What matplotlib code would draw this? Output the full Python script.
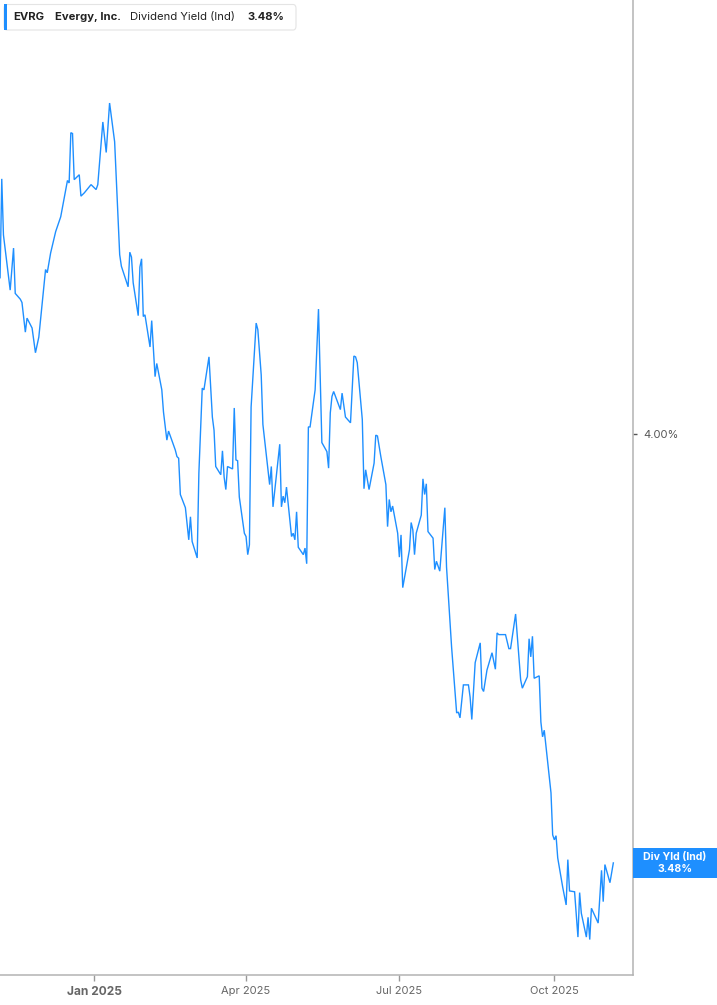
import numpy as np
import pandas as pd
import matplotlib
matplotlib.use("Agg")
import matplotlib.pyplot as plt
import matplotlib.dates as mdates
import matplotlib.patches as mpatches
import matplotlib.transforms as mtransforms

plt.rcParams['font.family'] = ['Inter', 'DejaVu Sans']

ticker = "EVRG"
company = "Evergy, Inc."
metric = "Dividend Yield (Ind)"
last_label = "3.48%"

dates = [
    "2024-11-06", "2024-11-07", "2024-11-08", "2024-11-12", "2024-11-14", "2024-11-15",
    "2024-11-18", "2024-11-19", "2024-11-21", "2024-11-22", "2024-11-25", "2024-11-27",
    "2024-11-29", "2024-12-03", "2024-12-04", "2024-12-06", "2024-12-09", "2024-12-12",
    "2024-12-16", "2024-12-17", "2024-12-18", "2024-12-19", "2024-12-20", "2024-12-23",
    "2024-12-24", "2024-12-26", "2024-12-30", "2025-01-02", "2025-01-03", "2025-01-06",
    "2025-01-08", "2025-01-10", "2025-01-13", "2025-01-16", "2025-01-17", "2025-01-21",
    "2025-01-22", "2025-01-23", "2025-01-24", "2025-01-27", "2025-01-28", "2025-01-29",
    "2025-01-30", "2025-01-31", "2025-02-03", "2025-02-04", "2025-02-06", "2025-02-07",
    "2025-02-10", "2025-02-11", "2025-02-13", "2025-02-14", "2025-02-18", "2025-02-19",
    "2025-02-20", "2025-02-21", "2025-02-24", "2025-02-26", "2025-02-27", "2025-02-28",
    "2025-03-03", "2025-03-04", "2025-03-06", "2025-03-07", "2025-03-10", "2025-03-12",
    "2025-03-13", "2025-03-14", "2025-03-17", "2025-03-18", "2025-03-19", "2025-03-20",
    "2025-03-21", "2025-03-24", "2025-03-25", "2025-03-26", "2025-03-27", "2025-03-28",
    "2025-03-31", "2025-04-01", "2025-04-02", "2025-04-03", "2025-04-04", "2025-04-07",
    "2025-04-08", "2025-04-10", "2025-04-11", "2025-04-15", "2025-04-16", "2025-04-17",
    "2025-04-21", "2025-04-22", "2025-04-23", "2025-04-24", "2025-04-25", "2025-04-28",
    "2025-04-29", "2025-04-30", "2025-05-01", "2025-05-02", "2025-05-05", "2025-05-06",
    "2025-05-07", "2025-05-08", "2025-05-09", "2025-05-12", "2025-05-14", "2025-05-16",
    "2025-05-19", "2025-05-20", "2025-05-21", "2025-05-22", "2025-05-23", "2025-05-27",
    "2025-05-28", "2025-05-30", "2025-06-02", "2025-06-04", "2025-06-05", "2025-06-06",
    "2025-06-09", "2025-06-10", "2025-06-11", "2025-06-13", "2025-06-16", "2025-06-17",
    "2025-06-18", "2025-06-20", "2025-06-23", "2025-06-24", "2025-06-25", "2025-06-26",
    "2025-06-27", "2025-06-30", "2025-07-01", "2025-07-02", "2025-07-03", "2025-07-07",
    "2025-07-08", "2025-07-09", "2025-07-10", "2025-07-11", "2025-07-14", "2025-07-15",
    "2025-07-16", "2025-07-17", "2025-07-18", "2025-07-21", "2025-07-22", "2025-07-23",
    "2025-07-25", "2025-07-28", "2025-07-29", "2025-08-01", "2025-08-04", "2025-08-05",
    "2025-08-06", "2025-08-08", "2025-08-11", "2025-08-12", "2025-08-13", "2025-08-15",
    "2025-08-18", "2025-08-19", "2025-08-20", "2025-08-22", "2025-08-25", "2025-08-27",
    "2025-08-28", "2025-08-29", "2025-09-02", "2025-09-04", "2025-09-05", "2025-09-08",
    "2025-09-11", "2025-09-12", "2025-09-15", "2025-09-16", "2025-09-17", "2025-09-18",
    "2025-09-19", "2025-09-22", "2025-09-23", "2025-09-24", "2025-09-25", "2025-09-29",
    "2025-09-30", "2025-10-01", "2025-10-02", "2025-10-03", "2025-10-06", "2025-10-08",
    "2025-10-09", "2025-10-10", "2025-10-13", "2025-10-15", "2025-10-16", "2025-10-17",
    "2025-10-20", "2025-10-21", "2025-10-22", "2025-10-23", "2025-10-27", "2025-10-29",
    "2025-10-30", "2025-10-31", "2025-11-03", "2025-11-05",
]

div_yield = [
    4.190, 4.310, 4.242, 4.175, 4.226, 4.171,
    4.164, 4.160, 4.124, 4.141, 4.129, 4.099,
    4.118, 4.200, 4.196, 4.220, 4.246, 4.264,
    4.308, 4.305, 4.366, 4.365, 4.309, 4.315,
    4.289, 4.293, 4.303, 4.297, 4.303, 4.379,
    4.342, 4.402, 4.355, 4.218, 4.204, 4.179,
    4.221, 4.215, 4.184, 4.144, 4.203, 4.213,
    4.143, 4.145, 4.106, 4.138, 4.070, 4.086,
    4.054, 4.027, 3.993, 4.004, 3.981, 3.973,
    3.971, 3.927, 3.911, 3.872, 3.900, 3.870,
    3.850, 3.953, 4.056, 4.054, 4.094, 4.021,
    4.005, 3.961, 3.951, 3.980, 3.948, 3.933,
    3.961, 3.958, 4.032, 3.969, 3.968, 3.924,
    3.880, 3.876, 3.854, 3.866, 4.033, 4.135,
    4.127, 4.072, 4.012, 3.939, 3.961, 3.912,
    3.988, 3.912, 3.925, 3.917, 3.936, 3.876,
    3.880, 3.872, 3.906, 3.863, 3.854, 3.862,
    3.843, 4.009, 4.009, 4.054, 4.152, 3.990,
    3.979, 3.959, 4.026, 4.046, 4.052, 4.030,
    4.050, 4.021, 4.014, 4.095, 4.094, 4.087,
    4.018, 3.934, 3.957, 3.933, 3.965, 3.999,
    3.998, 3.973, 3.939, 3.888, 3.921, 3.906,
    3.913, 3.880, 3.851, 3.878, 3.814, 3.860,
    3.893, 3.884, 3.854, 3.880, 3.902, 3.946,
    3.927, 3.940, 3.882, 3.874, 3.836, 3.846,
    3.834, 3.911, 3.839, 3.742, 3.662, 3.663,
    3.656, 3.696, 3.696, 3.681, 3.654, 3.723,
    3.747, 3.692, 3.688, 3.714, 3.735, 3.715,
    3.759, 3.757, 3.757, 3.740, 3.740, 3.782,
    3.702, 3.692, 3.706, 3.752, 3.730, 3.755,
    3.704, 3.707, 3.651, 3.633, 3.641, 3.565,
    3.514, 3.508, 3.513, 3.486, 3.450, 3.429,
    3.484, 3.446, 3.445, 3.390, 3.444, 3.419,
    3.390, 3.414, 3.387, 3.425, 3.407, 3.471,
    3.433, 3.478, 3.456, 3.480,
]

tick_dates = ["2025-01-01", "2025-04-01", "2025-07-01", "2025-10-01"]
tick_labels = ["Jan 2025", "Apr 2025", "Jul 2025", "Oct 2025"]
y_ticks = [4.00]

LINE = '#1E8FFF'
W, H = 717, 1005

dt = pd.to_datetime(dates)

fig = plt.figure(figsize=(W / 100, H / 100), dpi=100)
ax = fig.add_axes([0, 30 / H, 632.7 / W, 975 / H])

ax.plot(dt, div_yield, color=LINE, linewidth=1.0, solid_joinstyle='miter')

ax.set_xlim(pd.Timestamp("2024-11-05 23:00"), pd.Timestamp("2025-11-16 12:00"))
ax.set_ylim(3.344, 4.527)

for s in ['left', 'top']:
    ax.spines[s].set_visible(False)
for s in ['right', 'bottom']:
    ax.spines[s].set_color('#b3b3b3')
    ax.spines[s].set_linewidth(1.1)

ax.yaxis.tick_right()
ax.set_yticks(y_ticks)
ax.set_yticklabels([f"{v:.2f}%" for v in y_ticks])
ax.tick_params(axis='y', direction='out', length=3, width=1, color='#555555',
               labelsize=8, labelcolor='#555555', pad=5)

ax.set_xticks(pd.to_datetime(tick_dates))
ax.set_xticklabels(tick_labels)
ax.tick_params(axis='x', direction='out', length=4, width=1, color='#999999',
               labelsize=8, labelcolor='#666666', pad=4)
ax.get_xticklabels()[0].set_fontweight('bold')
ax.get_xticklabels()[0].set_fontsize(8.6)

# header box
hdr = mpatches.FancyBboxPatch((4 / W, 1 - 30 / H), 292 / W, 25.5 / H,
                              boxstyle="round,pad=0,rounding_size=0.004",
                              transform=fig.transFigure, facecolor='white',
                              edgecolor='#e4e4e4', linewidth=0.8)
fig.add_artist(hdr)
fig.add_artist(mpatches.Rectangle((4 / W, 1 - 30 / H), 3 / W, 25.5 / H,
                                  transform=fig.transFigure, facecolor=LINE,
                                  edgecolor='none'))
ty = 1 - 17 / H
fig.text(13 / W, ty, ticker, fontsize=8.1, fontweight='bold', color='#222222', va='center')
fig.text(55 / W, ty, company, fontsize=8.1, fontweight='bold', color='#222222', va='center')
fig.text(130 / W, ty, metric, fontsize=8.1, color='#222222', va='center')
fig.text(247 / W, ty, last_label, fontsize=8.1, fontweight='bold', color='#222222', va='center')

# last value flag on right axis
last = div_yield[-1]
blend = mtransforms.blended_transform_factory(fig.transFigure, ax.transData)
box_h = 30 / 824
fig.add_artist(mpatches.Rectangle((633 / W, last - box_h / 2), 84 / W, box_h,
                                  transform=blend, facecolor=LINE, edgecolor='none',
                                  clip_on=False))
fig.text(675 / W, last + box_h * 0.19, "Div Yld (Ind)", transform=blend, fontsize=7.6,
         fontweight='bold', color='white', ha='center', va='center')
fig.text(675 / W, last - box_h * 0.19, f"{last:.2f}%", transform=blend, fontsize=7.6,
         fontweight='bold', color='white', ha='center', va='center')

fig.savefig("out.png", dpi=100)
